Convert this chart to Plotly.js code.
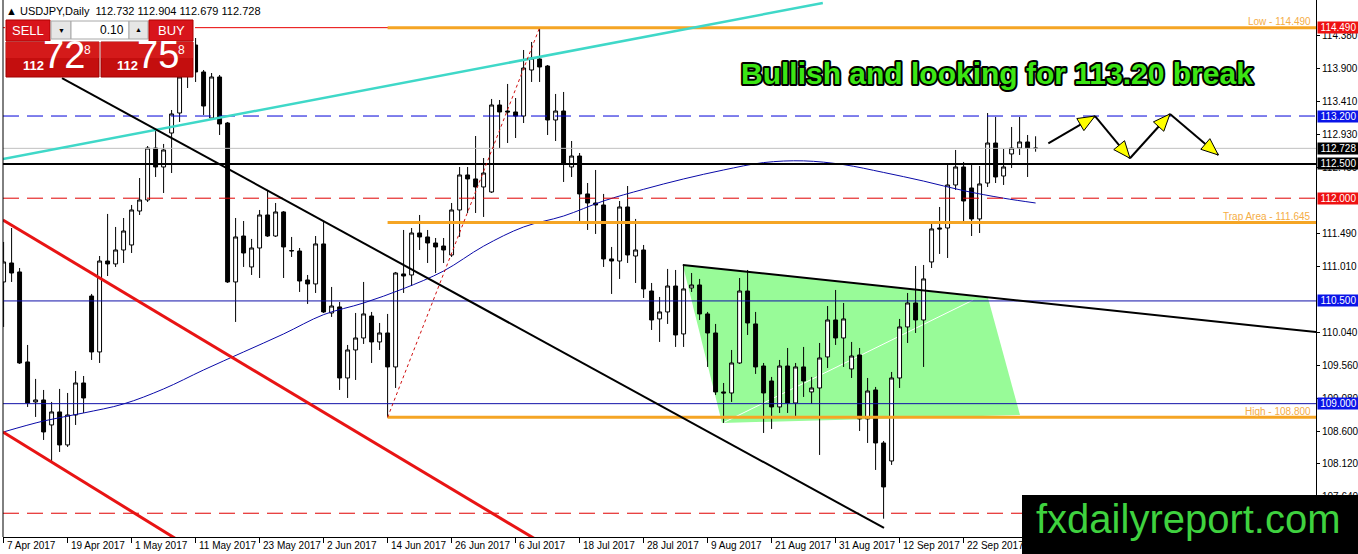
<!DOCTYPE html>
<html><head><meta charset="utf-8">
<script src="https://cdn.plot.ly/plotly-3.0.1.min.js"></script>
<style>
html,body{margin:0;padding:0;background:#fff;}
#chart{width:1358px;height:554px;}
.annotation[data-index="0"] text{stroke:#000;stroke-width:4px;paint-order:stroke fill;stroke-linejoin:round;}
</style></head>
<body><div id="chart"></div>
<script>
// ---- data (USDJPY daily, 7 Apr 2017 .. 5 Oct 2017, bar index 0..129) ----
const open = [110.777,111.054,110.923,109.609,109.025,109.054,108.689,108.879,108.397,108.835,
109.302,110.572,109.755,111.083,111.040,111.244,111.317,111.813,111.974,112.733,
112.456,112.952,113.244,113.843,114.237,113.843,113.171,113.770,113.098,110.777,
111.448,110.996,111.273,111.755,111.448,111.799,111.229,111.229,110.806,110.748,
111.332,110.324,110.412,109.375,109.784,109.959,110.280,109.901,110.032,109.536,
110.894,110.879,111.492,111.434,111.346,111.302,111.171,111.828,112.339,112.281,
112.164,112.091,113.361,113.273,113.259,113.200,113.872,114.033,113.930,113.142,
113.273,112.456,112.616,112.062,111.930,111.901,111.113,111.083,111.872,111.156,
111.244,110.645,110.237,110.339,110.718,110.018,110.689,110.733,110.310,110.032,
109.171,109.156,109.594,110.645,110.164,109.550,109.331,108.952,109.550,109.010,
109.536,109.171,109.229,109.682,110.222,109.959,109.507,109.711,108.777,109.200,
108.426,108.163,109.375,110.120,110.470,110.222,111.069,111.565,111.565,112.193,
112.456,112.149,111.697,112.222,112.806,112.324,112.646,112.733,112.821,112.732];
const high = [111.361,111.565,110.981,109.857,109.361,109.200,109.025,109.215,109.156,109.477,
109.404,110.602,111.156,111.770,111.580,111.711,111.901,112.295,112.762,112.996,
112.792,113.288,113.872,114.368,114.339,113.872,113.828,113.799,113.113,111.711,
111.667,111.405,111.828,112.120,111.930,111.813,111.434,111.273,110.879,111.448,
111.653,110.704,110.485,109.857,110.324,110.777,110.339,110.178,110.310,110.923,
111.536,111.565,111.755,111.536,111.419,111.419,111.930,112.456,112.456,112.908,
112.587,113.449,113.434,113.668,113.463,114.164,114.281,114.490,113.945,113.522,
113.551,112.835,112.660,112.222,112.412,112.062,111.288,111.959,112.178,111.697,
111.317,110.762,110.558,110.967,110.952,111.025,110.908,110.821,110.339,110.164,
109.302,109.784,110.835,110.952,110.339,109.594,109.390,109.638,109.813,109.594,
109.828,109.390,109.886,110.426,110.660,110.470,109.901,109.813,109.375,109.244,
108.455,109.463,110.237,110.616,111.010,111.025,111.638,111.872,112.485,112.704,
112.529,112.485,112.470,113.244,113.186,112.719,113.040,113.186,112.923,112.904];
const low = [110.120,110.777,109.580,108.952,108.806,108.470,108.134,108.295,108.368,108.689,
108.864,109.638,109.594,110.864,110.996,111.054,111.200,111.755,111.945,112.310,
112.076,112.368,113.113,113.609,113.697,113.215,113.142,112.923,110.762,110.193,
110.996,110.879,110.835,111.434,111.434,110.835,111.142,110.631,110.456,110.616,
110.324,110.266,109.200,109.083,109.346,109.872,109.594,109.784,108.800,109.229,
110.616,110.718,111.244,111.054,110.908,111.054,111.142,111.434,111.784,111.784,
111.726,112.076,112.733,112.806,112.879,113.098,113.697,113.697,112.923,112.835,
112.237,112.310,111.667,111.536,111.478,110.996,110.602,110.821,111.054,110.762,
110.543,110.076,109.901,110.164,109.828,109.828,110.631,110.222,109.536,109.127,
108.718,109.025,109.580,110.003,109.434,108.572,108.631,108.864,108.864,108.820,
109.098,108.996,108.251,109.521,109.857,109.536,109.375,108.601,108.426,108.032,
107.320,108.105,109.229,109.886,110.032,109.536,110.981,111.186,111.127,112.120,
111.624,111.448,111.492,112.164,112.222,112.193,112.441,112.631,112.310,112.679];
const close = [111.069,110.908,109.594,109.010,109.054,108.587,108.879,108.397,108.835,109.302,
109.083,109.755,111.083,111.040,111.244,111.521,111.828,111.974,112.733,112.456,
112.704,113.230,113.770,114.237,113.843,113.346,113.770,113.084,110.777,111.434,
111.200,111.273,111.755,111.448,111.799,111.288,111.235,110.791,110.748,111.332,
110.339,110.426,109.375,109.784,109.959,110.310,109.901,110.032,109.536,110.908,
110.864,111.492,111.434,111.346,111.288,111.244,111.828,112.339,112.281,112.164,
112.368,113.361,113.259,113.259,113.200,113.901,114.047,113.916,113.142,113.273,
112.514,112.616,112.062,111.930,111.901,111.113,111.083,111.872,111.171,111.244,
110.675,110.222,110.339,110.718,110.003,110.675,110.733,110.310,110.032,109.171,
109.156,109.594,110.645,110.178,109.536,109.156,108.952,109.550,109.010,109.536,
109.331,109.229,109.667,110.222,109.959,110.237,109.696,108.777,109.185,108.426,
107.784,109.375,110.120,110.470,110.222,110.821,111.551,111.551,112.193,112.456,
111.959,111.697,112.208,112.806,112.310,112.456,112.733,112.821,112.733,112.728];

// moving average (read at sampled bars)
const maIdx = [0,5,10,15,20,25,30,35,40,45,50,55,60,65,70,75,80,85,90,95,100,105,110,115,120,125,129];
const maVal = [108.587,108.747,108.864,108.996,109.215,109.492,109.755,110.018,110.300,110.470,110.680,110.937,111.300,111.580,111.740,111.960,112.130,112.281,112.412,112.520,112.545,112.490,112.376,112.250,112.110,112.000,111.930];

// date axis labels
const dateIdx = [0,8,16,24,32,40,48,56,64,72,80,88,96,104,112,120];
const dateLabels = ['7 Apr 2017','19 Apr 2017','1 May 2017','11 May 2017','23 May 2017','2 Jun 2017','14 Jun 2017','26 Jun 2017','6 Jul 2017','18 Jul 2017','28 Jul 2017','9 Aug 2017','21 Aug 2017','31 Aug 2017','12 Sep 2017','22 Sep 2017'];

// price axis ticks (those fully hidden behind price boxes are left out)
const priceTicks = [114.38,113.90,113.41,112.93,112.45,111.49,111.01,110.04,109.56,109.08,108.60,108.12,107.64];

// horizontal price levels
const hLevels = [114.490,113.200,112.728,112.500,112.000,110.500,109.000,107.400];
const hColors = ['#e80000','#0000d8','#c0c0c0','#000000','#e00000','#1010a8','#1010a8','#e00000'];
const hDash   = ['solid','16px,8px','solid','solid','16px,8px','solid','solid','16px,8px'];
const hWidth  = [1,1,1,2,1,1,1,1];
const boxLevels = [114.490,113.200,112.728,112.500,112.000,110.500,109.000];
const boxColors = ['#ee1111','#0a14e8','#000000','#000000','#ee1111','#0a14e8','#0a14e8'];

// orange levels
const orangeLevels = [114.490,111.645,108.800];
const orangeLabels = ['Low - 114.490','Trap Area - 111.645','High - 108.800'];
const orangeStart = 48;

// drawn objects (bar index, price)
const cyanX = [-0.08,102.4], cyanY = [112.573,114.850];
const downX = [7.3,110.05], downY = [113.755,107.185];
const redAX = [-0.08,69.6], redAY = [111.682,106.803];
const redBX = [-0.08,24.6], redBY = [108.587,106.806];
const dotX = [48,67], dotY = [108.800,114.490];
const triX = [84.9,164.1], triY = [111.025,110.045];
const greenX = [84.9,123.05,127.05,89.8], greenY = [111.025,110.543,108.835,108.718];
const whiteX = [89.9,121.2], whiteY = [108.718,110.514];
const zzX = [130.59,136.43,140.8,145.8,151.84], zzY = [112.802,113.2,112.583,113.23,112.631];

// ---- geometry helpers ----
const L=3, W=1313, H=537;
const X0=-0.075, X1=164.05, Y0=107.053, Y1=114.894;
const idx = open.map((_,i)=>i);
function pxp(x){return (x-L)/W;}
function pyp(y){return 1-y/H;}
function toPx(xi,yv){return [L+(xi-X0)/(X1-X0)*W,(Y1-yv)/(Y1-Y0)*H];}
function toData(px,py){return [X0+(px-L)/W*(X1-X0), Y1-py/H*(Y1-Y0)];}

const FONT='Liberation Sans, Arial, sans-serif';
const shapes=[];
const ann=[];

// green triangle area (background)
shapes.push({type:'path',xref:'x',yref:'y',layer:'below',
  path:'M'+greenX.map((x,i)=>x+','+greenY[i]).join(' L')+' Z',
  fillcolor:'#98FB98',line:{width:0}});
shapes.push({type:'line',xref:'x',yref:'y',layer:'below',x0:whiteX[0],y0:whiteY[0],x1:whiteX[1],y1:whiteY[1],line:{color:'#ffffff',width:1}});

// horizontal levels
hLevels.forEach((v,i)=>{
  shapes.push({type:'line',xref:'paper',yref:'y',layer:'above',x0:0,x1:1,y0:v,y1:v,
    line:{color:hColors[i],width:hWidth[i],dash:hDash[i]}});
});
// orange levels
orangeLevels.forEach((v,i)=>{
  shapes.push({type:'line',xref:'x',yref:'y',layer:'above',x0:orangeStart,x1:X1,y0:v,y1:v,
    line:{color:'#f5a524',width:3}});
});
function seg(xs,ys,color,width,dash){
  shapes.push({type:'line',xref:'x',yref:'y',layer:'above',x0:xs[0],y0:ys[0],x1:xs[1],y1:ys[1],
    line:{color:color,width:width,dash:dash||'solid'}});
}
seg(cyanX,cyanY,'#3fd8c8',2.5);
seg(downX,downY,'#000000',2);
seg(redAX,redAY,'#e81414',3);
seg(redBX,redBY,'#e81414',3);
seg(dotX,dotY,'#d01010',1,'dot');
seg(triX,triY,'#000000',2);
// zigzag arrows
for(let i=0;i<zzX.length-1;i++){
  seg([zzX[i],zzX[i+1]],[zzY[i],zzY[i+1]],'#000000',2);
}
for(let i=0;i<zzX.length-1;i++){
  const A=toPx(zzX[i],zzY[i]), B=toPx(zzX[i+1],zzY[i+1]);
  const dx=B[0]-A[0], dy=B[1]-A[1], len=Math.hypot(dx,dy), ux=dx/len, uy=dy/len;
  const hl=17, hw=7, bx=B[0]-ux*hl, by=B[1]-uy*hl;
  const pts=[B,[bx-uy*hw,by+ux*hw],[bx+uy*hw,by-ux*hw]].map(p=>toData(p[0],p[1]));
  shapes.push({type:'path',xref:'x',yref:'y',layer:'above',
    path:'M'+pts.map(p=>p[0]+','+p[1]).join(' L')+' Z',fillcolor:'#ffff00',line:{color:'#000',width:1}});
}
// left border
shapes.push({type:'line',xref:'paper',yref:'paper',layer:'above',x0:0,x1:0,y0:0,y1:1,line:{color:'#000',width:1}});

// one-click trading panel
function rect(x0,y0,x1,y1,fill,lc){
  shapes.push({type:'rect',xref:'paper',yref:'paper',layer:'above',x0:pxp(x0),x1:pxp(x1),y0:pyp(y1),y1:pyp(y0),
    fillcolor:fill,line:{color:lc||fill,width:lc?1:0}});
}
rect(5,19,195,77,'#ffffff');
rect(6,20,50,41,'#d8141b','#b00000');
rect(51,21,71,39,'#e6e6e6','#a8a8a8');
rect(71,21,129,39,'#ffffff','#a8a8a8');
rect(129,21,148,39,'#e6e6e6','#a8a8a8');
rect(149,20,193,41,'#d8141b','#b00000');
rect(6,42,99,77,'#c40e0e','#a00000');
rect(6,42,99,58,'#d41a1a');
rect(101,42,193,77,'#c40e0e','#a00000');
rect(101,42,193,58,'#d41a1a');
// black watermark box
rect(1022,495,1358,554,'#000000');

// ---- annotations ----
function txt(x,y,t,size,color,opts){
  ann.push(Object.assign({xref:'paper',yref:'paper',x:pxp(x),y:pyp(y),text:t,showarrow:false,
    xanchor:'center',yanchor:'middle',font:{family:FONT,size:size,color:color}},opts||{}));
}
// index 0: headline (stroked via CSS)
txt(997,74,'Bullish and looking for 113.20 break',30,'#3ce614',{font:{family:FONT,size:30,color:'#3ce614',weight:700}});
txt(1188,519,'fxdailyreport.com',40,'#3fd23f');
txt(4,11,'▲ USDJPY,Daily  112.732 112.904 112.679 112.728',11,'#000',{xanchor:'left'});
txt(28,31,'SELL',13,'#fff');
txt(171,31,'BUY',13,'#fff');
txt(61,30,'▼',7,'#000');
txt(138,29,'▲',7,'#000');
txt(126,30,'0.10',12,'#000',{xanchor:'right'});
txt(33,65,'112',13,'#fff',{font:{family:FONT,size:13,color:'#fff',weight:700}});
txt(64,55,'72',36,'#fff',{font:{family:'Liberation Sans Narrow, Liberation Sans, Arial',size:38,color:'#fff'}});
txt(87,50,'8',12,'#fff');
txt(127,65,'112',13,'#fff',{font:{family:FONT,size:13,color:'#fff',weight:700}});
txt(158,55,'75',36,'#fff',{font:{family:'Liberation Sans Narrow, Liberation Sans, Arial',size:38,color:'#fff'}});
txt(181,50,'8',12,'#fff');
// date labels
dateIdx.forEach((d,i)=>{
  ann.push({xref:'x',yref:'paper',x:d,y:pyp(545),text:dateLabels[i],showarrow:false,xanchor:'left',yanchor:'middle',xshift:1,
    font:{family:FONT,size:10,color:'#000'}});
});
// orange level labels
orangeLevels.forEach((v,i)=>{
  ann.push({xref:'paper',yref:'y',x:pxp(1313),y:v,text:orangeLabels[i],showarrow:false,xanchor:'right',yanchor:'middle',yshift:6,
    font:{family:FONT,size:10,color:'#f5ad45'}});
});
// price boxes on the axis
boxLevels.forEach((v,i)=>{
  ann.push({xref:'paper',yref:'y',x:pxp(1317),y:v,text:v.toFixed(3),showarrow:false,xanchor:'left',yanchor:'middle',
    bgcolor:boxColors[i],width:41,height:11,borderpad:0,align:'center',
    font:{family:FONT,size:10,color:'#fff'}});
});

const traces=[
 {type:'candlestick',x:idx,open:open,high:high,low:low,close:close,hoverinfo:'skip',whiskerwidth:0,
  increasing:{line:{color:'#000',width:1},fillcolor:'#ffffff'},
  decreasing:{line:{color:'#000',width:1},fillcolor:'#000000'}},
 {type:'scatter',mode:'lines',x:maIdx,y:maVal,line:{color:'#0a0aa8',width:1,shape:'spline'},hoverinfo:'skip'}
];

const layout={
 width:1358,height:554,margin:{l:L,r:1358-L-W,t:0,b:554-H},
 paper_bgcolor:'#ffffff',plot_bgcolor:'#ffffff',showlegend:false,hovermode:false,
 xaxis:{range:[X0,X1],showgrid:false,zeroline:false,showline:true,linecolor:'#000',linewidth:1,
   ticks:'outside',ticklen:5,tickcolor:'#000',tickvals:dateIdx,showticklabels:false,
   rangeslider:{visible:false},fixedrange:true},
 yaxis:{range:[Y0,Y1],side:'right',showgrid:false,zeroline:false,showline:true,linecolor:'#000',linewidth:1,
   ticks:'outside',ticklen:3,tickcolor:'#000',tickvals:priceTicks,ticktext:priceTicks.map(v=>v.toFixed(3)),
   tickfont:{family:FONT,size:10,color:'#000'},fixedrange:true},
 shapes:shapes,annotations:ann
};
Plotly.newPlot('chart',traces,layout,{staticPlot:true,displayModeBar:false});
</script></body></html>
